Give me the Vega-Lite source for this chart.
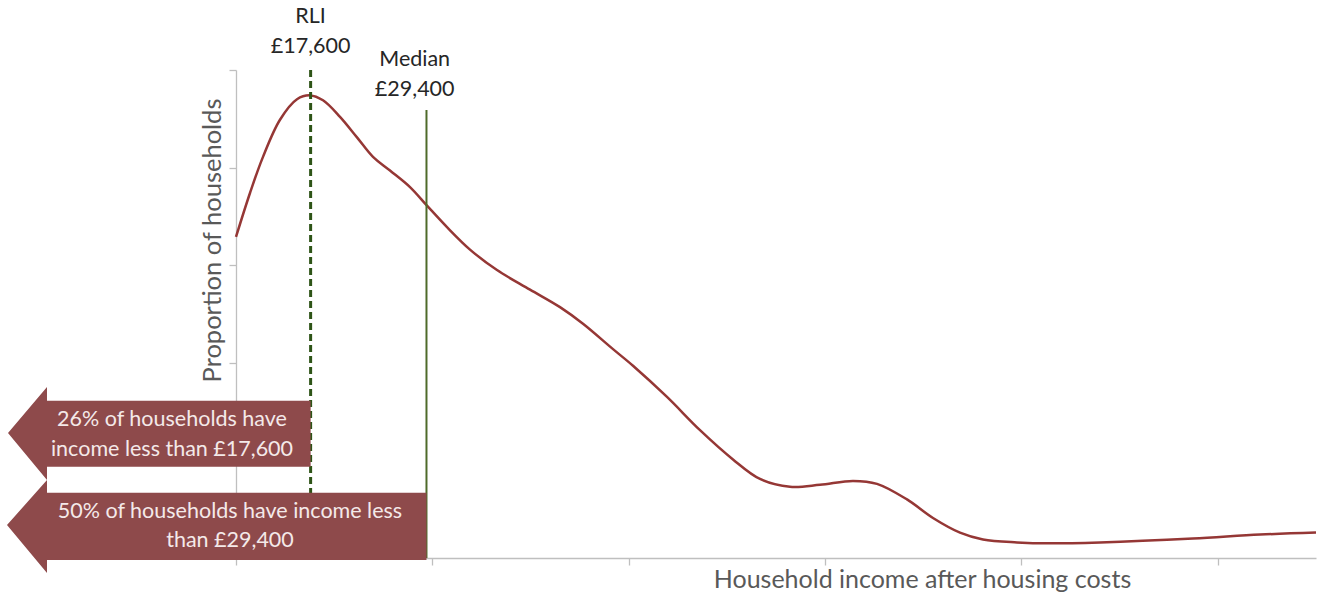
{
  "$schema": "https://vega.github.io/schema/vega-lite/v6.json",
  "width": 1080,
  "height": 488,
  "autosize": {"type": "none"},
  "padding": {"left": 236, "top": 70, "right": 10, "bottom": 35},
  "background": "white",
  "config": {
    "view": {"stroke": null},
    "font": "Lato",
    "axis": {"domainColor": "#BFBFBF", "tickColor": "#BFBFBF", "grid": false, "labels": false, "tickSize": 7, "domainWidth": 1.3, "tickWidth": 1.3}
  },
  "datasets": {
    "curve": [
      {"income": 10000, "share": 3.29},
      {"income": 11426, "share": 3.74},
      {"income": 12750, "share": 4.11},
      {"income": 14481, "share": 4.49},
      {"income": 16213, "share": 4.70},
      {"income": 17537, "share": 4.74},
      {"income": 18861, "share": 4.69},
      {"income": 20592, "share": 4.52},
      {"income": 22324, "share": 4.31},
      {"income": 23953, "share": 4.11},
      {"income": 25685, "share": 3.97},
      {"income": 27722, "share": 3.80},
      {"income": 29453, "share": 3.61},
      {"income": 31490, "share": 3.39},
      {"income": 33833, "share": 3.16},
      {"income": 36583, "share": 2.95},
      {"income": 39944, "share": 2.75},
      {"income": 43000, "share": 2.57},
      {"income": 45342, "share": 2.40},
      {"income": 48398, "share": 2.14},
      {"income": 50435, "share": 1.97},
      {"income": 53898, "share": 1.65},
      {"income": 57259, "share": 1.31},
      {"income": 60620, "share": 1.01},
      {"income": 63370, "share": 0.81},
      {"income": 66425, "share": 0.73},
      {"income": 69481, "share": 0.75},
      {"income": 72842, "share": 0.79},
      {"income": 75286, "share": 0.76},
      {"income": 78342, "share": 0.60},
      {"income": 80990, "share": 0.41},
      {"income": 83740, "share": 0.26},
      {"income": 86082, "share": 0.19},
      {"income": 89545, "share": 0.16},
      {"income": 92906, "share": 0.15},
      {"income": 98000, "share": 0.16},
      {"income": 107470, "share": 0.20},
      {"income": 114300, "share": 0.24},
      {"income": 120000, "share": 0.26}
    ],
    "arrows": [
      {"arrow": "rli", "income": -13222, "lo": 1.281, "hi": 1.281},
      {"arrow": "rli", "income": -9250, "lo": 0.799, "hi": 1.752},
      {"arrow": "rli", "income": -9249, "lo": 0.935, "hi": 1.612},
      {"arrow": "rli", "income": 17600, "lo": 0.935, "hi": 1.612},
      {"arrow": "median", "income": -13324, "lo": 0.338, "hi": 0.338},
      {"arrow": "median", "income": -9250, "lo": -0.154, "hi": 0.799},
      {"arrow": "median", "income": -9249, "lo": -0.02, "hi": 0.669},
      {"arrow": "median", "income": 29400, "lo": -0.02, "hi": 0.669}
    ],
    "arrowText": [
      {"income": 3482, "share": 1.414, "label": "26% of households have"},
      {"income": 3482, "share": 1.107, "label": "income less than £17,600"},
      {"income": 9389, "share": 0.471, "label": "50% of households have income less"},
      {"income": 9389, "share": 0.174, "label": "than £29,400"}
    ],
    "markerText": [
      {"income": 17600, "share": 5.54, "label": "RLI"},
      {"income": 17600, "share": 5.24, "label": "£17,600"},
      {"income": 28200, "share": 5.10, "label": "Median"},
      {"income": 28200, "share": 4.80, "label": "£29,400"}
    ]
  },
  "layer": [
    {
      "data": {"name": "curve"},
      "mark": {"type": "line", "interpolate": "catmull-rom", "color": "#953735", "strokeWidth": 2.5},
      "encoding": {
        "x": {"field": "income", "type": "quantitative", "scale": {"domain": [10000, 120000], "nice": false, "zero": false},
              "axis": {"values": [10000, 30000, 50000, 70000, 90000, 110000], "title": "Household income after housing costs",
                       "titleFont": "Lato", "titleFontSize": 25, "titleFontWeight": "normal", "titleColor": "#595959",
                       "titleX": 686, "titleY": 21, "titleAlign": "center", "titleBaseline": "middle", "titleAnchor": null}},
        "y": {"field": "share", "type": "quantitative", "scale": {"domain": [0, 5], "nice": false},
              "axis": {"values": [0, 1, 2, 3, 4, 5], "title": "Proportion of households",
                       "titleFont": "Lato", "titleFontSize": 25.5, "titleFontWeight": "normal", "titleColor": "#595959",
                       "titleX": -24, "titleY": 170, "titleAlign": "center", "titleBaseline": "middle", "titleAngle": -90, "titleAnchor": null}}
      }
    },
    {
      "data": {"values": [{"income": 17600, "top": 5}]},
      "mark": {"type": "rule", "color": "#2E5417", "strokeWidth": 3, "strokeDash": [7, 4]},
      "encoding": {"x": {"field": "income", "type": "quantitative"}, "y": {"field": "top", "type": "quantitative"}, "y2": {"datum": 0}}
    },
    {
      "data": {"values": [{"income": 29400, "top": 4.59}]},
      "mark": {"type": "rule", "color": "#4F6B2A", "strokeWidth": 2},
      "encoding": {"x": {"field": "income", "type": "quantitative"}, "y": {"field": "top", "type": "quantitative"}, "y2": {"datum": 0}}
    },
    {
      "data": {"name": "arrows"},
      "mark": {"type": "area", "color": "#8E4A4B", "opacity": 1, "clip": false},
      "encoding": {
        "x": {"field": "income", "type": "quantitative"},
        "y": {"field": "hi", "type": "quantitative"},
        "y2": {"field": "lo"},
        "detail": {"field": "arrow"}
      }
    },
    {
      "data": {"name": "arrowText"},
      "mark": {"type": "text", "color": "#F4E9E9", "fontSize": 21.5, "font": "Lato", "align": "center", "baseline": "middle"},
      "encoding": {
        "x": {"field": "income", "type": "quantitative"},
        "y": {"field": "share", "type": "quantitative"},
        "text": {"field": "label"}
      }
    },
    {
      "data": {"name": "markerText"},
      "mark": {"type": "text", "color": "#262626", "fontSize": 21.5, "font": "Lato", "align": "center", "baseline": "middle"},
      "encoding": {
        "x": {"field": "income", "type": "quantitative"},
        "y": {"field": "share", "type": "quantitative"},
        "text": {"field": "label"}
      }
    }
  ]
}
